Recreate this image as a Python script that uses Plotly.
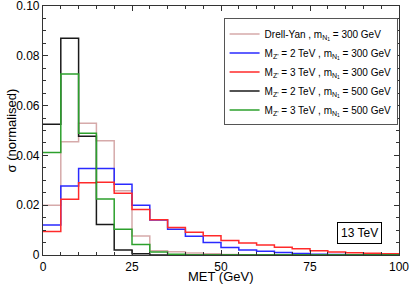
import plotly.graph_objects as go

# bin edges (GeV), 5 GeV bins from 0 to 100
bin_edges = [0, 5, 10, 15, 20, 25, 30, 35, 40, 45, 50, 55, 60, 65, 70, 75, 80, 85, 90, 95, 100]

drell_yan = [0.0200, 0.0455, 0.0529, 0.0459, 0.0258, 0.0076, 0.0017, 0.0013, 0.0008, 0.0005,
             0.0002, 0.0001, 0.0, 0.0, 0.0, 0.0, 0.0, 0.0, 0.0, 0.0]
z2_n300 = [0.0120, 0.0277, 0.0347, 0.0347, 0.0284, 0.0200, 0.0141, 0.0103, 0.0075, 0.0050,
           0.0030, 0.0020, 0.0015, 0.0010, 0.0006, 0.0003, 0.0002, 0.0001, 0.0001, 0.0001]
z3_n300 = [0.0094, 0.0224, 0.0290, 0.0292, 0.0248, 0.0183, 0.0142, 0.0110, 0.0091, 0.0077,
           0.0058, 0.0048, 0.0040, 0.0031, 0.0025, 0.0017, 0.0012, 0.0009, 0.0007, 0.0005]
z2_n500 = [0.0525, 0.0870, 0.0477, 0.0122, 0.0020, 0.0005, 0.0, 0.0, 0.0, 0.0,
           0.0, 0.0, 0.0, 0.0, 0.0, 0.0, 0.0, 0.0, 0.0, 0.0]
z3_n500 = [0.0412, 0.0727, 0.0489, 0.0225, 0.0103, 0.0042, 0.0012, 0.0003, 0.0, 0.0,
           0.0, 0.0, 0.0, 0.0, 0.0, 0.0, 0.0, 0.0, 0.0, 0.0]

series_names = [
    "Drell-Yan , m<sub>N<sub>1</sub></sub> = 300 GeV",
    "M<sub>Z'</sub> = 2 TeV , m<sub>N<sub>1</sub></sub> = 300 GeV",
    "M<sub>Z'</sub> = 3 TeV , m<sub>N<sub>1</sub></sub> = 300 GeV",
    "M<sub>Z'</sub> = 2 TeV , m<sub>N<sub>1</sub></sub> = 500 GeV",
    "M<sub>Z'</sub> = 3 TeV , m<sub>N<sub>1</sub></sub> = 500 GeV",
]
series_values = [drell_yan, z2_n300, z3_n300, z2_n500, z3_n500]
series_colors = ["#d6aaaa", "#2a2aff", "#ff2a2a", "#1a1a1a", "#2ca02c"]

y_tickvals = [0, 0.02, 0.04, 0.06, 0.08, 0.10]
y_ticktext = ["0", "0.02", "0.04", "0.06", "0.08", "0.10"]
x_tickvals = [0, 25, 50, 75, 100]
x_ticktext = ["0", "25", "50", "75", "100"]
x_title = "MET (GeV)"
y_title = "σ (normalised)"
energy_label = "13 TeV"

FONT = "Liberation Sans, Arial, sans-serif"

fig = go.Figure()
for name, vals, col in zip(series_names, series_values, series_colors):
    xs = list(bin_edges)
    ys = list(vals) + [vals[-1]]
    fig.add_trace(go.Scatter(x=xs, y=ys, mode="lines", name=name,
                             line=dict(color=col, width=1.5, shape="hv")))

axis_common = dict(showgrid=False, zeroline=False, showline=True, linecolor="#333",
                   linewidth=1.2, mirror="allticks", ticks="inside", ticklen=5,
                   tickcolor="#333", tickwidth=1, automargin=False,
                   ticklabeloverflow="allow",
                   tickfont=dict(family=FONT, size=12, color="black"))

fig.update_xaxes(range=[0, 100], tickvals=x_tickvals, ticktext=x_ticktext,
                 minor=dict(dtick=5, ticks="inside", ticklen=3, tickcolor="#333"),
                 **axis_common)
fig.update_yaxes(range=[0, 0.10], tickvals=y_tickvals, ticktext=y_ticktext,
                 minor=dict(dtick=0.005, ticks="inside", ticklen=3, tickcolor="#333"),
                 **axis_common)

# axis titles
fig.add_annotation(x=0.5, y=0, xref="paper", yref="paper", text=x_title,
                   xanchor="center", yanchor="middle", yshift=-21, showarrow=False,
                   font=dict(family=FONT, size=13, color="black"))
fig.add_annotation(x=0, y=0.5, xref="paper", yref="paper", text=y_title,
                   xanchor="center", yanchor="middle", xshift=-32, textangle=-90,
                   showarrow=False, font=dict(family=FONT, size=13, color="black"))

fig.add_annotation(x=0.888, y=0.088, xref="paper", yref="paper", text=energy_label,
                   xanchor="center", yanchor="middle",
                   showarrow=False, font=dict(family=FONT, size=12, color="black"),
                   bordercolor="black", borderwidth=1, borderpad=3, bgcolor="white")

fig.update_layout(
    width=410, height=284, autosize=False,
    margin=dict(l=43, r=11, t=6, b=29),
    plot_bgcolor="white", paper_bgcolor="white",
    legend=dict(x=0.996, y=0.95, xanchor="right", yanchor="top",
                bordercolor="#555", borderwidth=1, bgcolor="white",
                font=dict(family=FONT, size=10, color="black"),
                itemwidth=30, tracegroupgap=0),
    showlegend=True,
)

fig.write_html("out.html", config={"displayModeBar": False},
               post_script="document.body.style.margin='0';document.body.style.overflow='hidden';")
